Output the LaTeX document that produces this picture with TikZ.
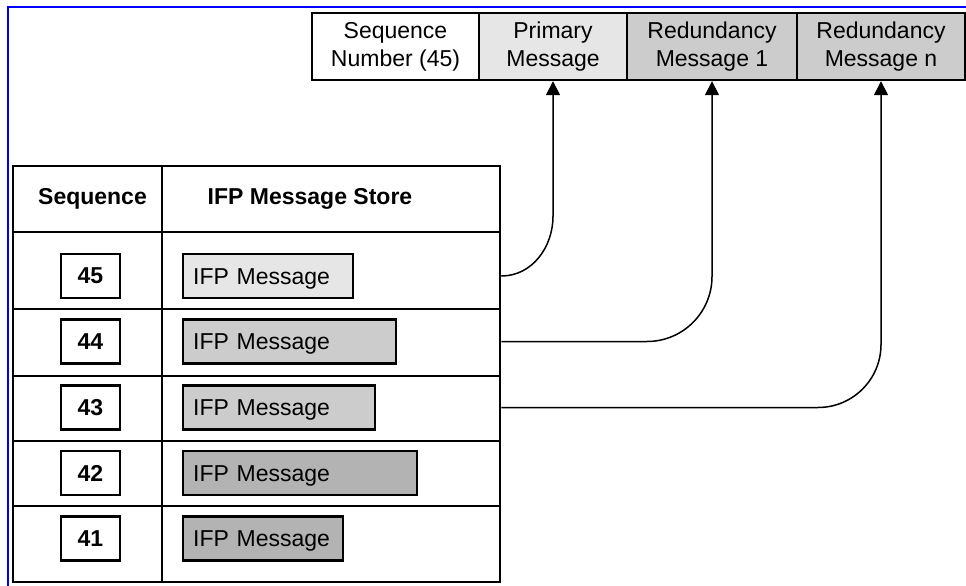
\documentclass[tikz,border=0pt]{standalone}
\usepackage{fontspec}
\setmainfont{Liberation Sans}
\usetikzlibrary{arrows.meta,calc}
\definecolor{shadeA}{HTML}{E6E6E6}
\definecolor{shadeB}{HTML}{CCCCCC}
\definecolor{shadeC}{HTML}{B3B3B3}
\begin{document}
\begin{tikzpicture}[x=1pt,y=1pt,
  txt/.style={font=\fontsize{23}{28}\selectfont},
  boldtxt/.style={font=\fontsize{23}{28}\selectfont\bfseries},
  hdrbox/.style={draw, line width=2.4pt, minimum height=67pt, inner sep=0pt, align=center, txt},
  numbox/.style={draw, line width=2.3pt, minimum width=59pt, minimum height=44pt, inner sep=0pt, boldtxt},
  msgbox/.style={draw, line width=2.3pt, minimum height=44pt, inner xsep=10pt, inner ysep=0pt,
                 anchor=west, text width=#1, text height=19pt, text depth=3pt, align=left, txt},
  conn/.style={line width=1.5pt, -{Triangle[length=14pt,width=14pt]}},
  gridline/.style={line width=1.8pt}
]
\useasboundingbox (0,0) rectangle (966,-586);

% frame
\draw[blue, line width=2pt] (8,-586) -- (8,-7.5) -- (966,-7.5);

% packet layout
\node[hdrbox, minimum width=167pt] (seqnum) at (395.5,-46.5) {Sequence\\Number (45)};
\node[hdrbox, fill=shadeA, minimum width=148pt] (prim) at (553,-46.5) {Primary\\Message};
\node[hdrbox, fill=shadeB, minimum width=170pt] (red1) at (712,-46.5) {Redundancy\\Message 1};
\node[hdrbox, fill=shadeB, minimum width=168pt] (redn) at (881,-46.5) {Redundancy\\Message n};

% message store table
\node[draw, line width=2.5pt, minimum width=487pt, minimum height=416pt, inner sep=0pt] (store) at (256.5,-374) {};
\draw[line width=2pt] (162,-166) -- (162,-582);
\draw[line width=2pt] (13,-232) -- (500,-232);
\foreach \yy in {309,376,441,506} \draw[gridline] (13,-\yy) -- (500,-\yy);

\node[boldtxt] (hseq) at (92.5,-199) {Sequence};
\node[boldtxt] (hstore) at (310,-199) {IFP Message Store};

\node[numbox] (n45) at (90.5,-276) {45};
\node[numbox] (n44) at (90.5,-341.5) {44};
\node[numbox] (n43) at (90.5,-407.5) {43};
\node[numbox] (n42) at (90.5,-473) {42};
\node[numbox] (n41) at (90.5,-538.5) {41};

\node[msgbox=150pt, fill=shadeA] (m45) at (182,-276) {IFP Message};
\node[msgbox=193pt, fill=shadeB] (m44) at (182,-341.5) {IFP Message};
\node[msgbox=172pt, fill=shadeB] (m43) at (182,-407.5) {IFP Message};
\node[msgbox=214pt, fill=shadeC] (m42) at (182,-473) {IFP Message};
\node[msgbox=140pt, fill=shadeC] (m41) at (182,-538.5) {IFP Message};

% connectors
\draw[conn] (n45 -| store.east) to[out=0,in=-90] ($(prim.south)+(0,-135)$) -- (prim.south);
\draw[conn, rounded corners=65pt] (n44 -| store.east) -| (red1.south);
\draw[conn, rounded corners=63pt] (n43 -| store.east) -| (redn.south);
\end{tikzpicture}
\end{document}
